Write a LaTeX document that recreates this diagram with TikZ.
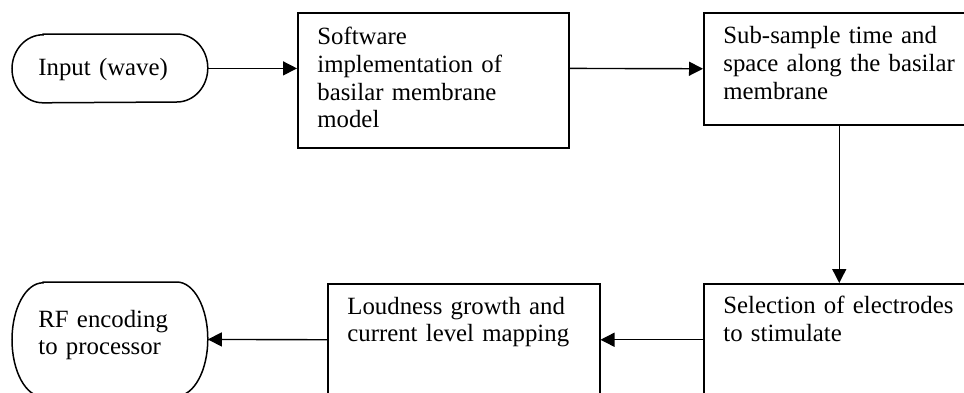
\documentclass[tikz,border=0pt]{standalone}
\usepackage{fontspec}
\setmainfont{Liberation Serif}
\usetikzlibrary{arrows.meta,calc}

% outline of a flowchart terminator: straight top and bottom, elliptical ends
\newcommand\termoutline[3]{%
  \draw[line width=0.75pt]
    ([xshift=#2]#1.north west) -- ([xshift=-#2]#1.north east)
    arc[start angle=90, end angle=-90, x radius=#2, y radius=#3]
    -- ([xshift=#2]#1.south west)
    arc[start angle=270, end angle=90, x radius=#2, y radius=#3]
    -- cycle;}

\begin{document}
\begin{tikzpicture}[x=0.5pt, y=-0.5pt,
  stepbox/.style={draw, line width=0.75pt, rectangle, inner sep=0pt,
    minimum width=135.5pt, minimum height=56pt, anchor=north west},
  term/.style={draw=none, rectangle, inner sep=0pt,
    minimum width=97.5pt, anchor=north west},
  txt/.style={anchor=base west, inner sep=0pt, text width=135pt, align=left,
    font=\fontsize{12.4}{13.9}\selectfont},
  arr/.style={line width=0.7pt, -{Triangle[length=7pt, width=7pt]}}]

\useasboundingbox (0,0) rectangle (964,392);
\fill[white] (0,0) rectangle (964,392);
\clip (0,0) rectangle (964,392);

% terminators
\node[term, minimum height=34pt] (in) at (12,34) {};
\termoutline{in}{15.5pt}{17pt}
\node[txt] (int) at ($(in.north west)+(26,41)$) {Input (wave)};

\node[term, minimum height=57pt] (rf) at (12,282) {};
\termoutline{rf}{15.5pt}{28.5pt}
\node[txt] (rft) at ($(rf.north west)+(26,45)$) {RF encoding\\to processor};

% process boxes
\node[stepbox, minimum height=67.5pt] (sw) at (297,12) {};
\node[txt] (swt) at ($(sw.north west)+(20,32.5)$)
  {Software\\implementation of\\basilar membrane\\model};

\node[stepbox] (sub) at (703,12) {};
\node[txt] (subt) at ($(sub.north west)+(20,31.5)$)
  {Sub-sample time and\\space along the basilar\\membrane};

\node[stepbox] (sel) at (703,283) {};
\node[txt] (selt) at ($(sel.north west)+(20,30.5)$)
  {Selection of electrodes\\to stimulate};

\node[stepbox, minimum width=136pt] (loud) at (327,283) {};
\node[txt] (loudt) at ($(loud.north west)+(20,31)$)
  {Loudness growth and\\current level mapping};

% connectors
\draw[arr] (in.east) -- (in.east -| sw.west);
\draw[arr] (in.east -| sw.east) -- (sub.west);
\draw[arr] (sub.south) -- (sel.north);
\draw[arr] (sel.west) -- (loud.east);
\draw[arr] (loud.west) -- (rf.east);
\end{tikzpicture}
\end{document}
